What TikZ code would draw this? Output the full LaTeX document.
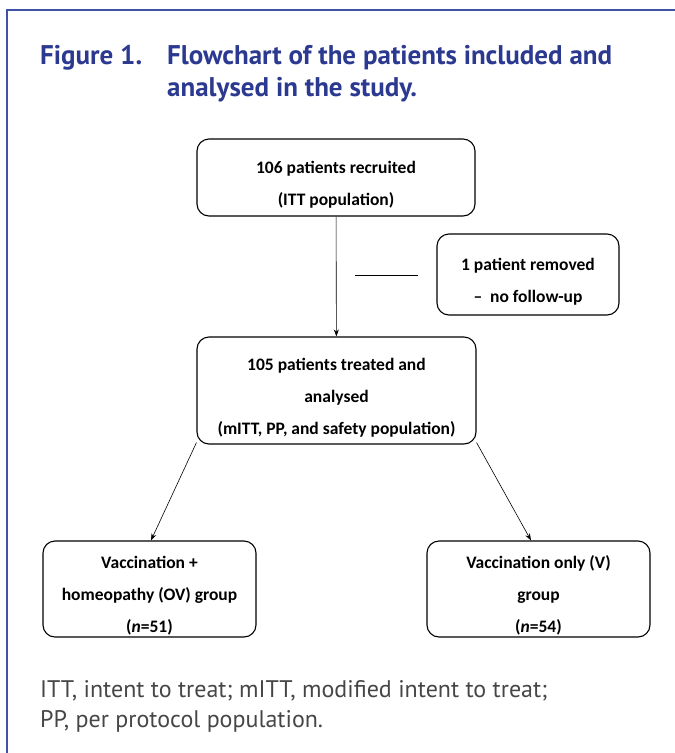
\documentclass[tikz,border=0pt]{standalone}
\usepackage{fontspec}
\setmainfont{Carlito}
\newfontfamily\capfont{PT Sans}
\usetikzlibrary{arrows.meta}
\definecolor{titleblue}{RGB}{43,57,144}
\definecolor{frameblue}{RGB}{62,82,170}
\definecolor{notegray}{RGB}{70,70,70}
\newcommand{\topgap}{\rule{0pt}{26pt}}
\tikzset{
  box/.style={draw, rounded corners=12pt, line width=1.1pt, align=center,
    inner sep=0pt, font=\fontsize{17.5}{32}\selectfont\bfseries},
  flow/.style={line width=0.6pt, -{Stealth[length=7pt,width=5pt]}},
  caption/.style={anchor=base west, inner sep=0pt, text=titleblue,
    font=\capfont\fontsize{27}{32}\selectfont\bfseries},
  note/.style={anchor=base west, inner sep=0pt, text=notegray,
    font=\capfont\fontsize{24}{28}\selectfont}
}
\begin{document}
\begin{tikzpicture}[x=1pt, y=-1pt]
    \useasboundingbox (0,0) rectangle (675,753);
    % Rahmen
    \draw[frameblue, line width=1.2pt] (7,753) -- (7,10) -- (675,10);

    % Titel
    \node[caption] (figlabel) at (40,64) {Figure 1.};
    \node[caption] (title1) at (167,64) {Flowchart of the patients included and};
    \node[caption] (title2) at (167,96) {analysed in the study.};

    % Kaesten
    \node[box, minimum width=278pt, minimum height=77pt] (recruited) at (336,177.5)
        {\topgap 106 patients recruited\\(ITT population)};
    \node[box, minimum width=182pt, minimum height=81pt] (removed) at (528,274.5)
        {\topgap 1 patient removed\\--\ \ no follow-up};
    \node[box, minimum width=279pt, minimum height=107pt] (treated) at (336.5,390.5)
        {\topgap 105 patients treated and\\analysed\\(mITT, PP, and safety population)};
    \node[box, minimum width=213pt, minimum height=96pt] (ov) at (149.5,589)
        {\topgap Vaccination +\\homeopathy (OV) group\\(\textit{n}=51)};
    \node[box, minimum width=223pt, minimum height=96pt] (v) at (538.5,589)
        {\topgap Vaccination only (V)\\group\\(\textit{n}=54)};

    % Verbindungen
    \coordinate (gapl) at (355,275);
    \coordinate (gapr) at (418,275);
    \draw[line width=0.6pt] (gapl) -- (gapr);
    \draw[flow] (recruited) -- (treated);
    \draw[flow] ([yshift=2pt]treated.south west) -- ([xshift=1.5pt]ov.north);
    \draw[flow] ([yshift=2pt]treated.south east) -- ([xshift=-7.5pt]v.north);

    % Fussnote
    \node[note] (note1) at (40,697) {ITT, intent to treat; mITT, modified intent to treat;};
    \node[note] (note2) at (40,727) {PP, per protocol population.};
\end{tikzpicture}
\end{document}
